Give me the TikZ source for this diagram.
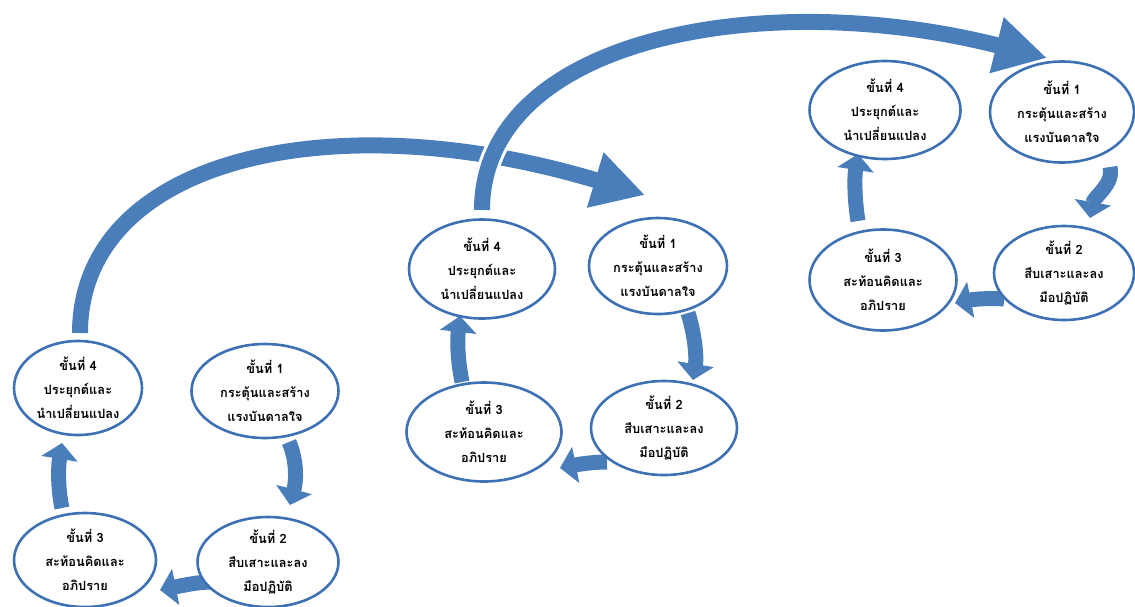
\documentclass[tikz,border=0pt]{standalone}
\usepackage{fontspec}
\newfontfamily\thaifont[Script=Thai]{Loma}
\usetikzlibrary{shapes.geometric,arrows.meta,calc,backgrounds}
\definecolor{arrowblue}{RGB}{74,126,187}
\definecolor{ringblue}{RGB}{62,112,180}
\begin{document}
\begin{tikzpicture}[x=1pt,y=-1pt,
  stepring/.style={ellipse, draw=ringblue, line width=2.6pt, fill=white, inner sep=0pt},
  steptext/.style={font=\thaifont\bfseries\fontsize{12.8}{24}\selectfont, align=center, text=black},
  flowsmall/.style={draw=arrowblue, line width=15pt, -{Triangle[length=16pt,width=36pt]}},
  flowbig/.style={draw=arrowblue, line width=16pt, -{Triangle[length=52pt,width=54pt]}},
  gapline/.style={draw=white, line width=22pt, shorten >=54pt},
]
\useasboundingbox (0,0) rectangle (1135,606);

% ---- group 1 (bottom left)
\node[stepring, minimum width=128pt, minimum height=94pt,
  label={[steptext]center:{ขั้นที่ 4\\ประยุกต์และ\\นำเปลี่ยนแปลง}}] (g1s4) at (78,388) {};
\node[stepring, minimum width=147pt, minimum height=94pt,
  label={[steptext]center:{ขั้นที่ 1\\กระตุ้นและสร้าง\\แรงบันดาลใจ}}] (g1s1) at (265,391) {};
\node[stepring, minimum width=142pt, minimum height=94pt,
  label={[steptext]center:{ขั้นที่ 3\\สะท้อนคิดและ\\อภิปราย}}] (g1s3) at (85,560) {};
\node[stepring, minimum width=141pt, minimum height=90pt,
  label={[steptext]center:{ขั้นที่ 2\\สืบเสาะและลง\\มือปฏิบัติ}}] (g1s2) at (268,562) {};

% ---- group 2 (middle)
\node[stepring, minimum width=146pt, minimum height=99pt,
  label={[steptext]center:{ขั้นที่ 4\\ประยุกต์และ\\นำเปลี่ยนแปลง}}] (g2s4) at (482,269) {};
\node[stepring, minimum width=138pt, minimum height=96pt,
  label={[steptext]center:{ขั้นที่ 1\\กระตุ้นและสร้าง\\แรงบันดาลใจ}}] (g2s1) at (658,266) {};
\node[stepring, minimum width=155pt, minimum height=99pt,
  label={[steptext]center:{ขั้นที่ 3\\สะท้อนคิดและ\\อภิปราย}}] (g2s3) at (484,432) {};
\node[stepring, minimum width=146pt, minimum height=94pt,
  label={[steptext]center:{ขั้นที่ 2\\สืบเสาะและลง\\มือปฏิบัติ}}] (g2s2) at (664,428) {};

% ---- group 3 (top right)
\node[stepring, minimum width=151pt, minimum height=98pt,
  label={[steptext]center:{ขั้นที่ 4\\ประยุกต์และ\\นำเปลี่ยนแปลง}}] (g3s4) at (885,110) {};
\node[stepring, minimum width=144pt, minimum height=101pt,
  label={[steptext]center:{ขั้นที่ 1\\กระตุ้นและสร้าง\\แรงบันดาลใจ}}] (g3s1) at (1062,112) {};
\node[stepring, minimum width=147pt, minimum height=101pt,
  label={[steptext]center:{ขั้นที่ 3\\สะท้อนคิดและ\\อภิปราย}}] (g3s3) at (883,280) {};
\node[stepring, minimum width=140pt, minimum height=94pt,
  label={[steptext]center:{ขั้นที่ 2\\สืบเสาะและลง\\มือปฏิบัติ}}] (g3s2) at (1064,273) {};

% ---- connectors (behind the rings)
\begin{scope}[on background layer]
  % big arcs between the cycles
  \draw[flowbig] ($(g1s4)+(2,-55)$) .. controls (80,160) and (330,100) .. ($(g2s1)+(-13,-71)$);
  \draw[gapline] ($(g2s4)+(0,-59)$) .. controls (482,40) and (760,-15) .. ($(g3s1)+(-15,-54)$);
  \draw[flowbig] ($(g2s4)+(0,-59)$) .. controls (482,40) and (760,-15) .. ($(g3s1)+(-15,-54)$);
  % group 1
  \draw[flowsmall] ($(g1s1)+(24,51)$) .. controls (296,458) and (297,478) .. ($(g1s2)+(22,-57)$);
  \draw[flowsmall] ($(g1s2)+(-56,20)$) .. controls (198,582) and (185,585) .. ($(g1s3)+(75,30)$);
  \draw[flowsmall] ($(g1s3)+(-23,-52)$) .. controls (58,490) and (58,468) .. ($(g1s4)+(-16,55)$);
  % group 2
  \draw[flowsmall] ($(g2s1)+(30,47)$) .. controls (694,332) and (697,355) .. ($(g2s2)+(29,-48)$);
  \draw[flowsmall] ($(g2s2)+(-57,34)$) .. controls (594,462) and (580,464) .. ($(g2s3)+(76,36)$);
  \draw[flowsmall] ($(g2s3)+(-22,-50)$) .. controls (458,362) and (457,342) .. ($(g2s4)+(-22,47)$);
  % group 3
  \draw[flowsmall] ($(g3s1)+(48,55)$) .. controls (1114,185) and (1094,196) .. ($(g3s2)+(26,-55)$);
  \draw[flowsmall] ($(g3s2)+(-60,26)$) .. controls (990,298) and (975,299) .. ($(g3s3)+(72,23)$);
  \draw[flowsmall] ($(g3s3)+(-25,-59)$) .. controls (855,203) and (854,180) .. ($(g3s4)+(-27,44)$);
\end{scope}
\end{tikzpicture}
\end{document}
